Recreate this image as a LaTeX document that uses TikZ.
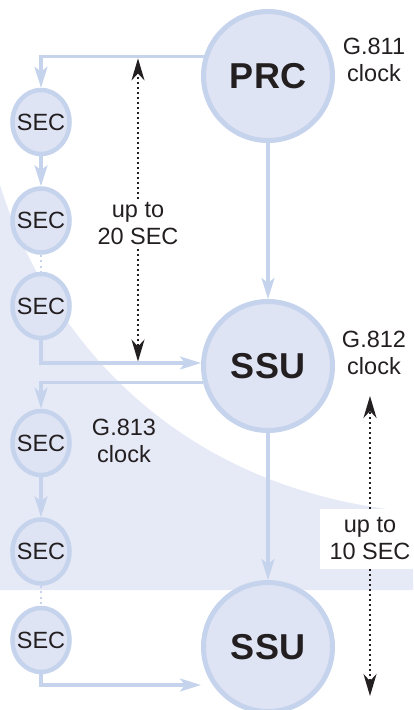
\documentclass[tikz,border=0pt]{standalone}
\usepackage{fontspec}
\setmainfont{Liberation Sans}
\usetikzlibrary{arrows.meta, positioning, shapes.geometric}
\definecolor{rim}{HTML}{C5D3EC}
\definecolor{discfill}{HTML}{DFE4F5}
\definecolor{bgtint}{HTML}{E6EAF6}
\definecolor{ink}{HTML}{231F20}
\tikzset{
  every node/.style={font=\fontsize{23.5}{27}\selectfont, text=ink},
  clock/.style={
    circle, draw=rim, fill=discfill, line width=5pt,
    minimum size=129pt, inner sep=0pt,
    font=\fontsize{36}{40}\selectfont\bfseries
  },
  sec/.style={
    ellipse, draw=rim, fill=discfill, line width=4.5pt,
    minimum width=57pt, minimum height=64pt,
    inner xsep=-4pt, inner ysep=0pt
  },
  note/.style={align=center, inner sep=4pt},
  link/.style={draw=rim, line width=3.2pt, -{Stealth[length=21pt,width=13pt,inset=5pt]}},
  chain/.style={draw=rim, line width=2pt, dash pattern=on 2pt off 3.5pt},
  spanarr/.style={draw=ink, line width=2pt, dash pattern=on 2pt off 3pt,
    -{Stealth[length=22pt,width=13pt,inset=7pt]}},
}
\begin{document}
\begin{tikzpicture}[x=1pt, y=-1pt]
  \useasboundingbox (0,0) rectangle (413,710);

  % shaded backdrop
  \fill[bgtint] (0,185) .. controls (45,330) and (170,490) .. (413,512)
    -- (413,590) -- (0,590) -- cycle;

  % clocks
  \node[clock] (prc) at (268,76) {PRC};
  \node[clock] (ssu1) at (268,366) {SSU};
  \node[clock] (ssu2) at (268,647) {SSU};

  % SEC chains
  \node[sec] (s1) at (41,122) {SEC};
  \node[sec, below=30pt of s1] (s2) {SEC};
  \node[sec, below=17pt of s2] (s3) {SEC};
  \node[sec] (s4) at (41,443) {SEC};
  \node[sec, below=40pt of s4] (s5) {SEC};
  \node[sec, below=20pt of s5] (s6) {SEC};

  % labels
  \node[note] (g811) at (374,60) {G.811\\clock};
  \node[note] (g812) at (374,353) {G.812\\clock};
  \node[note] (g813) at (124,441) {G.813\\clock};
  \node[note] (upto20) at (138,224) {up to\\20 SEC};
  \node[note, fill=white, minimum width=100pt, minimum height=60pt] (upto10)
    at (370,539) {up to\\10 SEC};

  \coordinate (in1) at ([yshift=3pt]ssu1.west);
  \coordinate (in2) at ([yshift=-38pt]ssu2.west);
  \coordinate (top10) at (370,396);
  \coordinate (bot10) at (370,696);

  % timing links
  \draw[link] (prc.163) -| (s1.north);
  \draw[link] (s1) -- (s2);
  \draw[chain] (s2) -- (s3);
  \draw[link] (s3.south) |- (in1);
  \draw[link] (ssu1.194) -| (s4.north);
  \draw[link] (s4) -- (s5);
  \draw[chain] (s5) -- (s6);
  \draw[link] (s6.south) |- (in2);
  \draw[link] (prc) -- (ssu1);
  \draw[link] (ssu1) -- (ssu2);

  % spans
  \draw[spanarr, shorten >=2pt] (upto20) -- (upto20 |- prc.163);
  \draw[spanarr, shorten >=1.5pt] (upto20) -- (upto20 |- in1);
  \draw[spanarr] (upto10) -- (top10);
  \draw[spanarr] (upto10) -- (bot10);
\end{tikzpicture}
\end{document}
